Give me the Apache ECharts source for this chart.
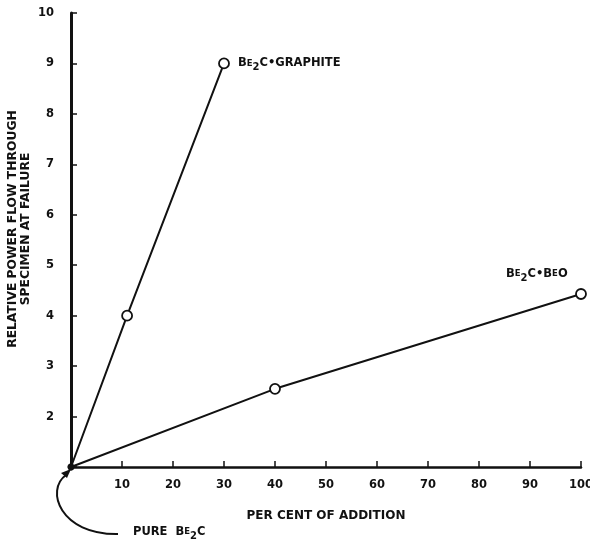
<!DOCTYPE html>
<html>
<head>
<meta charset="utf-8">
<script src="https://cdn.jsdelivr.net/npm/echarts@6/dist/echarts.min.js"></script>
<style>html,body{margin:0;padding:0;background:#fff;}#c{width:590px;height:547px;}</style>
</head>
<body>
<div id="c"></div>
<script>
var graphiteX = [0, 11, 30];
var graphiteY = [1, 4, 9];
var beoX = [0, 40, 100];
var beoY = [1, 2.55, 4.43];
var xTicks = [10, 20, 30, 40, 50, 60, 70, 80, 90, 100];
var yTicks = [2, 3, 4, 5, 6, 7, 8, 9, 10];

var FONT = 'DejaVu Sans';
function pts(xs, ys) {
  return xs.map(function (x, i) {
    var d = { value: [x, ys[i]] };
    if (i === 0) { d.symbol = 'circle'; d.symbolSize = 5; d.itemStyle = { color: '#111' }; }
    return d;
  });
}
var rich = {
  a: { fontFamily: FONT, fontWeight: 'bold', fontSize: 11.5, color: '#111' },
  e: { fontFamily: FONT, fontWeight: 'bold', fontSize: 8.5, color: '#111' },
  s: { fontFamily: FONT, fontWeight: 'bold', fontSize: 10, color: '#111', padding: [8, 0, 0, 0] }
};
var chart = echarts.init(document.getElementById('c'));
var option = {
  animation: false,
  backgroundColor: '#fff',
  grid: { left: 71, right: 9, top: 13, bottom: 80, containLabel: false, outerBoundsMode: 'none' },
  xAxis: {
    type: 'value', min: 0, max: 100, interval: 10,
    name: 'PER CENT OF ADDITION', nameLocation: 'middle', nameGap: 43, nameMoveOverlap: false,
    nameTextStyle: { fontFamily: FONT, fontWeight: 'bold', fontSize: 12, color: '#111' },
    axisLine: { lineStyle: { color: '#111', width: 2.5 } },
    axisTick: { inside: true, length: 6, lineStyle: { color: '#111', width: 1.5 } },
    axisLabel: {
      margin: 12, fontFamily: FONT, fontWeight: 'bold', fontSize: 11.5, color: '#111',
      formatter: function (v) { return xTicks.indexOf(v) >= 0 ? String(v) : ''; }
    },
    splitLine: { show: false }
  },
  yAxis: {
    type: 'value', min: 1, max: 10, interval: 1,
    name: 'RELATIVE POWER FLOW THROUGH\nSPECIMEN AT FAILURE', nameLocation: 'middle', nameGap: 39,
    nameMoveOverlap: false, nameRotate: 90,
    nameTextStyle: { fontFamily: FONT, fontWeight: 'bold', fontSize: 12.3, color: '#111', lineHeight: 13, padding: [0, 0, 0, 22] },
    axisLine: { lineStyle: { color: '#111', width: 3 } },
    axisTick: { inside: true, length: 6, lineStyle: { color: '#111', width: 1.5 } },
    axisLabel: {
      margin: 17, fontFamily: FONT, fontWeight: 'bold', fontSize: 11.5, color: '#111',
      formatter: function (v) { return yTicks.indexOf(v) >= 0 ? String(v) : ''; }
    },
    splitLine: { show: false }
  },
  series: [
    {
      name: 'Be2C-Graphite', type: 'line', data: pts(graphiteX, graphiteY),
      symbol: 'circle', symbolSize: 10, showAllSymbol: true,
      lineStyle: { color: '#111', width: 2 },
      itemStyle: { color: '#fff', borderColor: '#111', borderWidth: 1.8 },
      endLabel: {
        show: true, distance: 14, offset: [0, 0],
        formatter: 'B{e|E}{s|2}C\u2022GRAPHITE', rich: rich,
        fontFamily: FONT, fontWeight: 'bold', fontSize: 11.5, color: '#111'
      },
      z: 3
    },
    {
      name: 'Be2C-BeO', type: 'line', data: pts(beoX, beoY),
      symbol: 'circle', symbolSize: 10, showAllSymbol: true,
      lineStyle: { color: '#111', width: 2 },
      itemStyle: { color: '#fff', borderColor: '#111', borderWidth: 1.8 },
      endLabel: {
        show: true, distance: 0, offset: [-75, -20],
        formatter: 'B{e|E}{s|2}C\u2022B{e|E}O', rich: rich,
        fontFamily: FONT, fontWeight: 'bold', fontSize: 11.5, color: '#111'
      },
      z: 3
    }
  ],
  graphic: [
    {
      type: 'bezierCurve',
      shape: { x1: 118, y1: 534, cpx1: 60, cpy1: 535, cpx2: 45, cpy2: 490, x2: 66, y2: 475 },
      style: { stroke: '#111', lineWidth: 2, fill: null }
    },
    {
      type: 'polygon',
      shape: { points: [[71, 469], [61, 473], [67, 478]] },
      style: { fill: '#111' }
    },
    {
      type: 'text', left: 133, top: 526,
      style: {
        text: '{a|PURE  B}{e|E}{s|2}{a|C}', rich: rich,
        fontFamily: FONT, fontWeight: 'bold', fontSize: 11.5, fill: '#111'
      }
    }
  ]
};
chart.setOption(option);
</script>
</body>
</html>
